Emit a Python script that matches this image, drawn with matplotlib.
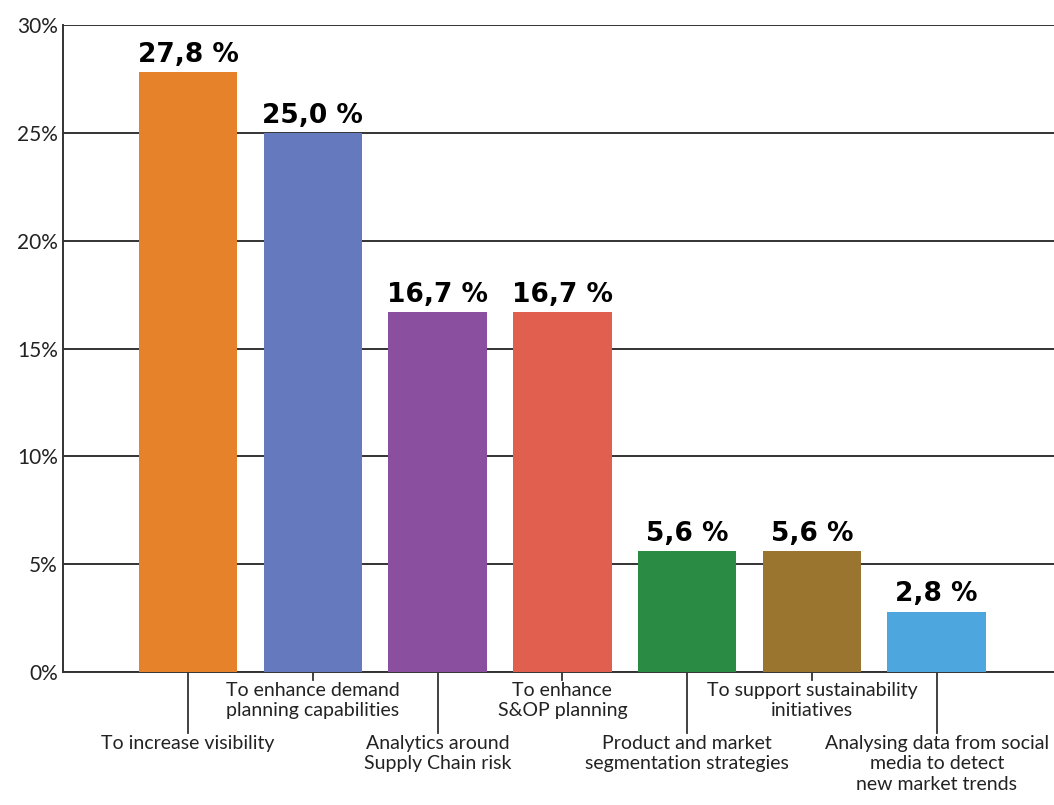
import matplotlib.pyplot as plt
from matplotlib.transforms import blended_transform_factory
from matplotlib.lines import Line2D

categories = ["To increase visibility",
              "To enhance demand\nplanning capabilities",
              "Analytics around\nSupply Chain risk",
              "To enhance\nS&OP planning",
              "Product and market\nsegmentation strategies",
              "To support sustainability\ninitiatives",
              "Analysing data from social\nmedia to detect\nnew market trends"]
values = [27.8, 25.0, 16.7, 16.7, 5.6, 5.6, 2.8]
value_labels = ["27,8 %", "25,0 %", "16,7 %", "16,7 %", "5,6 %", "5,6 %", "2,8 %"]
colors = ["#E6832A", "#6479BE", "#8A4F9F", "#E05F4E", "#2A8B45", "#9A7530", "#4EA6DE"]
yticks = [0, 5, 10, 15, 20, 25, 30]

plt.rcParams['font.family'] = ['Lato', 'DejaVu Sans']

fig = plt.figure(figsize=(10.54, 8.05), dpi=100)
ax = fig.add_axes([0.06, 0.165, 0.94, 0.804])

x = list(range(len(values)))
ax.bar(x, values, width=0.79, color=colors, zorder=3)
for xi, v, lab in zip(x, values, value_labels):
    ax.text(xi, v + 0.2, lab, ha="center", va="bottom", fontsize=19,
            fontweight="bold", family="DejaVu Sans", zorder=4)

ax.set_xlim(-1, 6.94)
ax.set_ylim(0, 30)
ax.set_yticks(yticks)
ax.set_yticklabels([f"{t}%" for t in yticks], fontsize=15, color="#222222")
ax.tick_params(axis="y", length=0, pad=4)
ax.set_xticks([])
ax.yaxis.grid(True, color="#333333", linewidth=1.4, zorder=0)
for s in ["top", "right"]:
    ax.spines[s].set_visible(False)
ax.spines["left"].set_color("#333333")
ax.spines["left"].set_linewidth(1.4)
ax.spines["bottom"].set_color("#333333")
ax.spines["bottom"].set_linewidth(1.4)

# alternating category labels with leader lines
trans = blended_transform_factory(ax.transData, ax.transAxes)
for i, cat in enumerate(categories):
    if i % 2 == 0:
        ax.add_line(Line2D([i, i], [0, -0.094], transform=trans, color="#333333",
                           linewidth=1.3, clip_on=False))
        ax.text(i, -0.097, cat, transform=trans, ha="center", va="top",
                fontsize=14, linespacing=1.25, color="#222222")
    else:
        ax.add_line(Line2D([i, i], [0, -0.012], transform=trans, color="#333333",
                           linewidth=1.3, clip_on=False))
        ax.text(i, -0.015, cat, transform=trans, ha="center", va="top",
                fontsize=14, linespacing=1.25, color="#222222")

fig.savefig("out.png", dpi=100)
